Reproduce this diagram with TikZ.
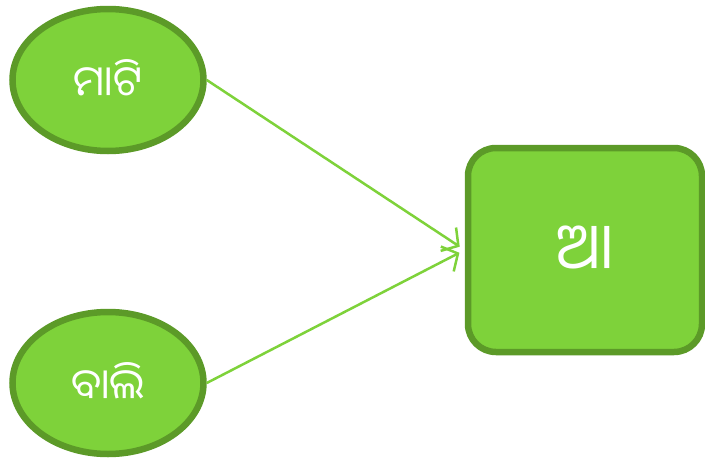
\documentclass[tikz,border=0pt]{standalone}
\usepackage{fontspec}
\newfontfamily\oriya[Script=Oriya]{Noto Sans Oriya UI}
\usetikzlibrary{shapes.geometric,arrows.meta}
\definecolor{fillg}{HTML}{7ED23A}
\definecolor{edgeg}{HTML}{5C9A28}
\tikzset{
  oval/.style={ellipse, draw=edgeg, fill=fillg, line width=6.5pt, minimum width=191pt, minimum height=142pt, inner sep=0pt, text=white, font=\oriya\fontsize{42}{46}\selectfont},
  target/.style={rectangle, rounded corners=28pt, draw=edgeg, fill=fillg, line width=6.5pt, minimum width=234pt, minimum height=204pt, inner sep=0pt, text=white, font=\oriya\fontsize{64}{70}\selectfont},
  link/.style={draw=fillg, line width=2.5pt, -{Straight Barb[length=12pt,width=28pt,line width=2.5pt]}, shorten >=6pt}
}
\begin{document}
\begin{tikzpicture}[x=1pt,y=-1pt]
\useasboundingbox (0,0) rectangle (705,461);
\node[oval] (mati) at (108,80) {ମାଟି};
\node[oval] (bali) at (108,383) {ବାଲି};
\node[target] (aa) at (585,250) {ଆ};
\draw[link] (mati.east) -- (aa.west);
\draw[link] (bali.east) -- (aa.west);
\end{tikzpicture}
\end{document}
